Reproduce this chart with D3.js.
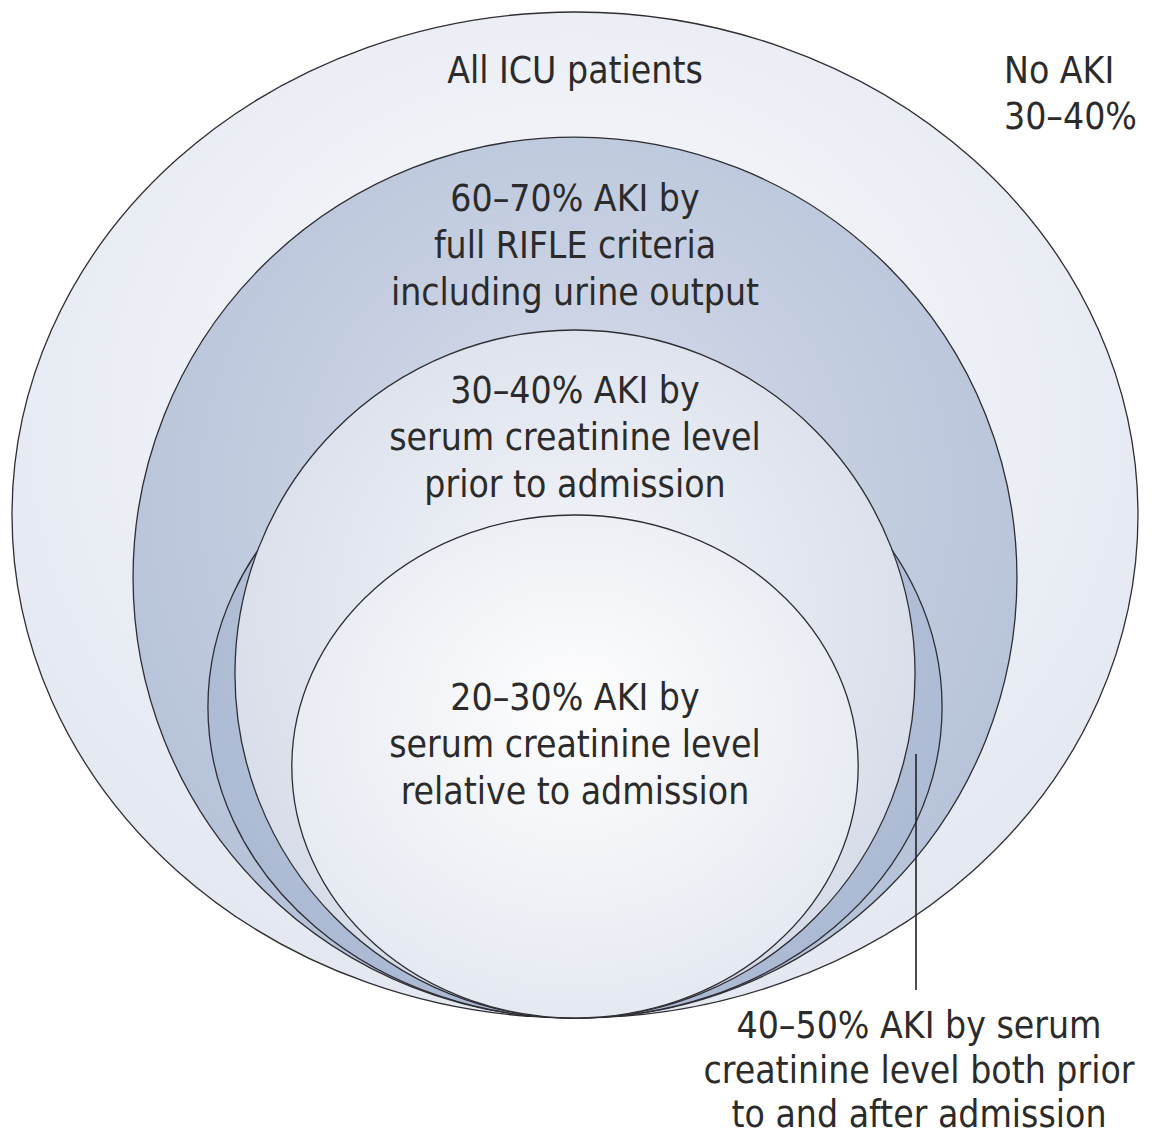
<!DOCTYPE html>
<html>
<head>
<meta charset="utf-8">
<script src="https://cdn.jsdelivr.net/npm/d3@7"></script>
<style>
  html, body { margin: 0; padding: 0; background: #ffffff; }
  svg { display: block; }
  text { font-family: "Liberation Sans Narrow", "DejaVu Sans Condensed", "Roboto", sans-serif; fill: #2b2b2b; }
</style>
</head>
<body>
<svg id="chart" width="1152" height="1139"></svg>
<script>
// ---- Data: nested sets of ICU patients (percent ranges) ----
const setIds    = ["all", "rifle", "both", "prior", "relative"];
const setLabels = [
  ["All ICU patients"],
  ["60–70% AKI by", "full RIFLE criteria", "including urine output"],
  ["40–50% AKI by serum", "creatinine level both prior", "to and after admission"],
  ["30–40% AKI by", "serum creatinine level", "prior to admission"],
  ["20–30% AKI by", "serum creatinine level", "relative to admission"]
];
const noAkiLabel = ["No AKI", "30–40%"];

// ---- Layout (diagram units: outer set height = 100, bottom tangent point = 0) ----
const shapeTop   = [100, 87.57, 61.83, 68.39, 50.0];   // top of each ellipse
const shapeHalfW = [1.0, 0.785, 0.652, 0.604, 0.503];  // half width, fraction of outer half width
const gradInner  = ["#fbfcfd", "#d6dcea", "#c0cbde", "#f3f5f9", "#fefefe"];
const gradOuter  = ["#e2e6f0", "#b3c0d7", "#aab8d2", "#d4dae7", "#e3e7f0"];

const svg = d3.select("#chart");
const y = d3.scaleLinear().domain([0, 100]).range([1018, 12]);
const x = d3.scaleLinear().domain([-1, 1]).range([12, 1138]);

const defs = svg.append("defs");
setIds.forEach((id, i) => {
  const g = defs.append("radialGradient")
    .attr("id", "g-" + id)
    .attr("cx", 0.5).attr("cy", 0.42).attr("r", 0.62)
    .attr("fx", 0.5).attr("fy", 0.38);
  g.append("stop").attr("offset", "0%").attr("stop-color", gradInner[i]);
  g.append("stop").attr("offset", "100%").attr("stop-color", gradOuter[i]);
});

const shapes = setIds.map((id, i) => ({
  id, i,
  cx: x(0),
  cy: (y(0) + y(shapeTop[i])) / 2,
  ry: (y(0) - y(shapeTop[i])) / 2,
  rx: x(shapeHalfW[i]) - x(0)
}));

svg.append("g").selectAll("ellipse")
  .data(shapes)
  .join("ellipse")
  .attr("cx", d => d.cx)
  .attr("cy", d => d.cy)
  .attr("rx", d => d.rx)
  .attr("ry", d => d.ry)
  .attr("fill", d => `url(#g-${d.id})`)
  .attr("stroke", "#2e2e33")
  .attr("stroke-width", 1.3);

// ---- Labels ----
const lineH = 47;
const labelPos = [
  { x: x(0), y: 83, anchor: "middle", lh: 47 },
  { x: x(0), y: 211, anchor: "middle", lh: 47 },
  { x: 919, y: 1038, anchor: "middle", lh: 44.5 },
  { x: x(0), y: 403, anchor: "middle", lh: 47 },
  { x: x(0), y: 710, anchor: "middle", lh: 47 }
];
const fs = 37;

const lab = svg.append("g");
setLabels.forEach((lines, i) => {
  const p = labelPos[i];
  const t = lab.append("text")
    .attr("text-anchor", p.anchor)
    .attr("font-size", fs);
  lines.forEach((s, k) => {
    t.append("tspan").attr("x", p.x).attr("y", p.y + k * p.lh).text(s);
  });
});

const na = lab.append("text").attr("text-anchor", "start").attr("font-size", fs);
noAkiLabel.forEach((s, k) => {
  na.append("tspan").attr("x", 1004).attr("y", 83 + k * 46).text(s);
});

// ---- Leader line for the "both" set ----
svg.append("line")
  .attr("x1", 916).attr("x2", 916)
  .attr("y1", 754).attr("y2", 990)
  .attr("stroke", "#222")
  .attr("stroke-width", 1.6);
</script>
</body>
</html>
